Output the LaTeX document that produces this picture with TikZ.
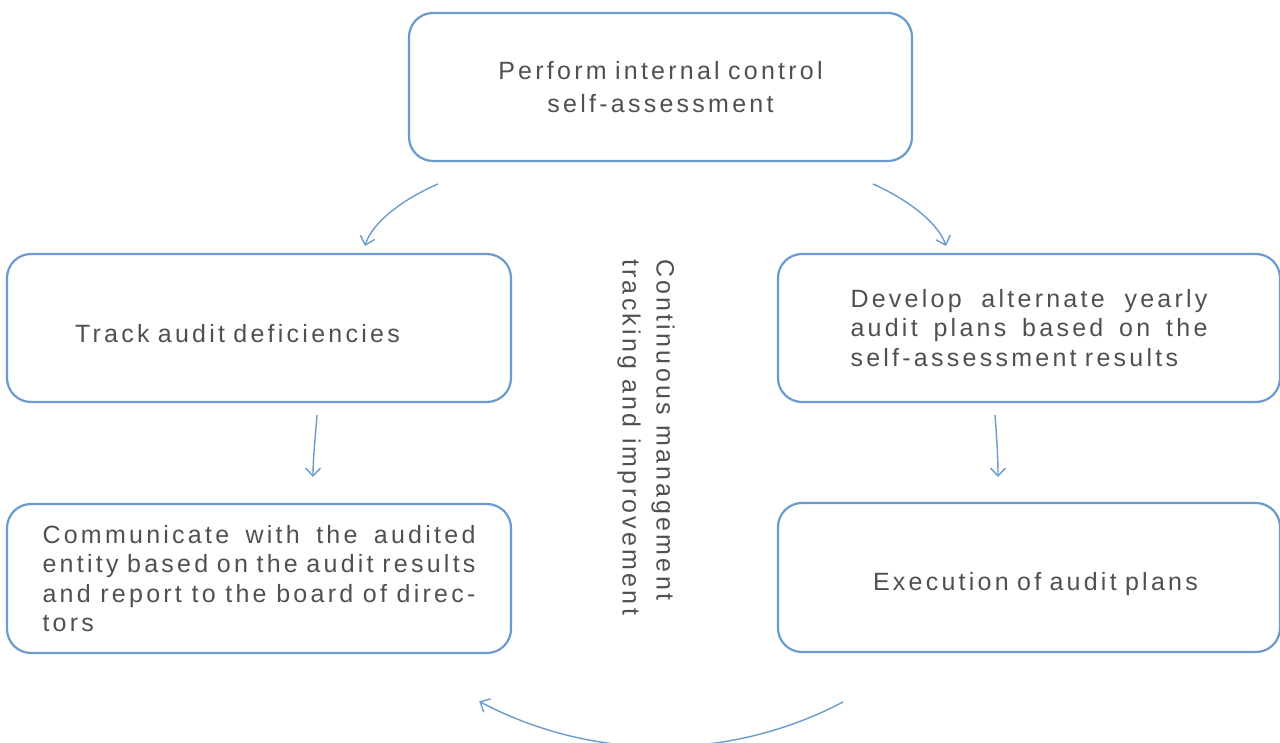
\documentclass[tikz,border=0pt]{standalone}
\usepackage{fontspec}
\setmainfont{Liberation Sans}[LetterSpace=13]
\usetikzlibrary{arrows.meta}
\definecolor{boxblue}{HTML}{6A9BCF}
\definecolor{txt}{HTML}{505050}
\newcommand\jline[2]{\makebox[#1][l]{#2}}
\begin{document}
\begin{tikzpicture}[x=1pt,y=-1pt,
  box/.style={draw=boxblue, line width=2.2pt, rounded corners=24pt, text=txt,
    font=\fontsize{25}{29.5}\selectfont, inner sep=0pt},
  flow/.style={draw=boxblue, line width=1.4pt, -{Straight Barb[length=8pt,width=15pt]}}]
\useasboundingbox (0,0) rectangle (1280,743);

\node[box, font=\fontsize{25}{33}\selectfont, minimum width=503pt, minimum height=148pt,
  text width=440pt, align=center]
  (top) at (660.5,87) {Perform internal control\\self-assessment};
\node[box, minimum width=504pt, minimum height=148pt, text width=368pt, align=left]
  (track) at (259,328) {\raisebox{-14pt}[0pt][0pt]{Track audit deficiencies}};
\node[box, minimum width=502pt, minimum height=148pt, text width=357pt, align=left]
  (plan) at (1029,328) {\jline{357pt}{Develop\hfill alternate\hfill yearly}\\
  \jline{357pt}{audit\hfill plans\hfill based\hfill on\hfill the}\\self-assessment results};
\node[box, minimum width=504pt, minimum height=149pt, text width=433pt, align=left]
  (comm) at (259,578.5) {\jline{433pt}{Communicate\hfill with\hfill the\hfill audited}\\
  \jline{433pt}{entity\hfill based\hfill on\hfill the\hfill audit\hfill results}\\
  \jline{433pt}{and\hfill report\hfill to\hfill the\hfill board\hfill of\hfill direc-}\\tors};
\node[box, minimum width=502pt, minimum height=149pt, text width=360pt, align=left]
  (exec) at (1029,577.5) {\raisebox{-12.5pt}[0pt][0pt]{\hspace*{24pt}Execution of audit plans}};

\node[text=txt, font=\fontsize{25}{34}\selectfont, rotate=-90, anchor=north west,
  align=left, inner sep=0pt] (cycle) at (675,259)
  {Continuous management\\tracking and improvement};

\coordinate (a1s) at (438,184); \coordinate (a1e) at (365,246);
\coordinate (a2s) at (873,184); \coordinate (a2e) at (946,246);
\coordinate (a3s) at (317,415); \coordinate (a3e) at (313,477);
\coordinate (a4s) at (995,415); \coordinate (a4e) at (998,477);
\coordinate (a5s) at (843,702);

\draw[flow] (a1s) .. controls (405,198) and (372,222) .. (a1e);
\draw[flow] (a2s) .. controls (905,198) and (938,222) .. (a2e);
\draw[flow] (a3s) .. controls (315,440) and (313,460) .. (a3e);
\draw[flow] (a4s) .. controls (997,440) and (998,460) .. (a4e);
\draw[flow] (a5s) arc[start angle=62.3, end angle=117.9, radius=390];
\end{tikzpicture}
\end{document}
